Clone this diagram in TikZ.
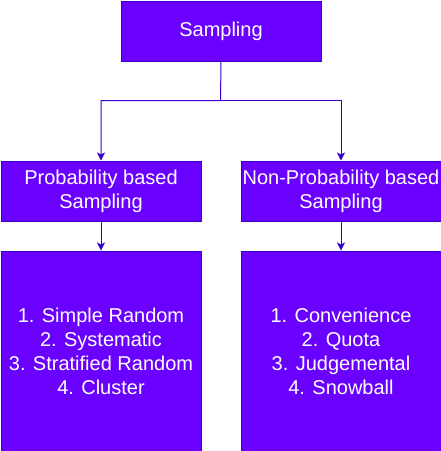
\documentclass[tikz,border=0pt]{standalone}
\usepackage{fontspec}
\setmainfont{Liberation Sans}
\usetikzlibrary{arrows.meta}
\definecolor{boxfill}{HTML}{6A00FF}
\definecolor{boxline}{HTML}{3700CC}
\begin{document}
\begin{tikzpicture}[x=1pt,y=-1pt,
  box/.style={draw=boxline, fill=boxfill, line width=1pt, text=white,
    font=\fontsize{20}{24}\selectfont, align=center, inner sep=0pt,
    anchor=north west, minimum width=200pt},
  conn/.style={draw=boxline, line width=1pt,
    -{Stealth[length=8pt,width=8pt,inset=2pt]}}]
\useasboundingbox (0,0) rectangle (441,451);
\node[box, minimum height=60pt] (s) at (120.5,0.5) {Sampling};
\node[box, minimum height=60pt] (p) at (0.5,160.5) {Probability based\\Sampling};
\node[box, minimum height=60pt] (n) at (240.5,160.5) {Non-Probability based\\Sampling};
\node[box, minimum height=200pt] (pl) at (0.5,250.5) {1. Simple Random\\2. Systematic\\3. Stratified Random\\4. Cluster};
\node[box, minimum height=200pt] (nl) at (240.5,250.5) {1. Convenience\\2. Quota\\3. Judgemental\\4. Snowball};
\coordinate (split) at (220.5,100.5);
\draw[conn] (s.south) -- (split) -| (p.north);
\draw[conn] (split) -| (n.north);
\draw[conn] (p.south) -- (pl.north);
\draw[conn] (n.south) -- (nl.north);
\end{tikzpicture}
\end{document}
